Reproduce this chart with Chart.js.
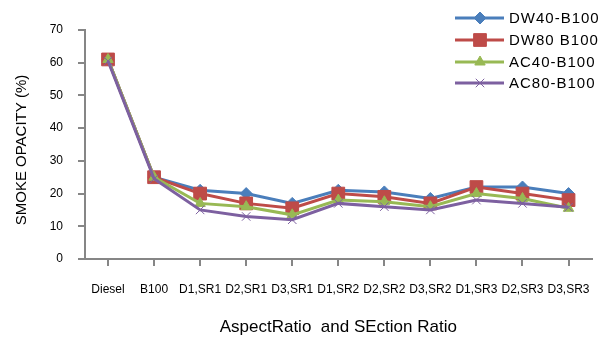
<!DOCTYPE html>
<html>
<head>
<meta charset="utf-8">
<script src="https://cdn.jsdelivr.net/npm/chart.js@4/dist/chart.umd.min.js"></script>
<style>
  html, body { margin: 0; padding: 0; background: #fff; }
  #wrap { width: 606px; height: 338px; position: relative; }
</style>
</head>
<body>
<div id="wrap"><canvas id="c" width="606" height="338"></canvas></div>
<script>
// Categories along the x axis
const categories = ["Diesel", "B100", "D1,SR1", "D2,SR1", "D3,SR1", "D1,SR2", "D2,SR2", "D3,SR2", "D1,SR3", "D2,SR3", "D3,SR3"];

// Smoke opacity (%) per blend
const dw40 = [61, 25, 21, 20, 17, 21, 20.5, 18.5, 22, 22, 20];
const dw80 = [61, 25, 20, 17, 15.5, 20, 19, 17, 22, 20, 18];
const ac40 = [61, 25, 17, 16, 13.5, 18, 17.5, 16, 20, 18.5, 15.5];
const ac80 = [60.5, 24.5, 15, 13, 12, 17, 16, 15, 18, 17, 15.8];

const seriesNames = ["DW40-B100", "DW80 B100", "AC40-B100", "AC80-B100"];
const yTicks = [0, 10, 20, 30, 40, 50, 60, 70];
const yTitle = "SMOKE OPACITY (%)";

const FONT = "'Liberation Sans', Arial, sans-serif";
const AXIS = "#868686";

const styles = [
  { color: "#4A7EBB", point: "rectRot", radius: 6, bw: 1 },
  { color: "#BE4B48", point: "rect", radius: 9, bw: 1 },
  { color: "#98B954", point: "triangle", radius: 6, bw: 1 },
  { color: "#7D60A0", point: "crossRot", radius: 6, bw: 1 }
];

const values = [dw40, dw80, ac40, ac80];
const datasets = values.map((v, i) => ({
  label: seriesNames[i],
  data: v,
  borderColor: styles[i].color,
  backgroundColor: styles[i].color,
  borderWidth: 3,
  pointStyle: styles[i].point,
  pointRadius: styles[i].radius,
  pointBorderWidth: styles[i].bw,
  pointBackgroundColor: styles[i].color,
  pointBorderColor: styles[i].color,
  tension: 0,
  order: 4 - i
}));

// Legend at the top right (overlapping the plot region) and the vertical axis title
const extras = {
  id: "extras",
  afterDraw(chart) {
    const ctx = chart.ctx;
    ctx.save();
    const rows = [18, 40, 62, 83];
    datasets.forEach((ds, i) => {
      const y = rows[i];
      ctx.strokeStyle = ds.borderColor;
      ctx.lineWidth = 3;
      ctx.beginPath();
      ctx.moveTo(455, y);
      ctx.lineTo(504, y);
      ctx.stroke();
      const opts = {
        pointStyle: ds.pointStyle,
        radius: ds.pointRadius,
        rotation: 0,
        borderWidth: ds.pointBorderWidth
      };
      ctx.fillStyle = ds.pointBackgroundColor;
      ctx.strokeStyle = ds.pointBorderColor;
      ctx.lineWidth = ds.pointBorderWidth;
      Chart.helpers.drawPoint(ctx, opts, 480, y);
      ctx.fillStyle = "#000";
      ctx.font = "15px " + FONT;
      ctx.letterSpacing = "1px";
      ctx.textBaseline = "middle";
      ctx.textAlign = "left";
      ctx.fillText(ds.label, 509, y + 1);
    });
    ctx.letterSpacing = "0px";
    ctx.translate(22, 150);
    ctx.rotate(-Math.PI / 2);
    ctx.font = "15px " + FONT;
    ctx.textAlign = "center";
    ctx.textBaseline = "middle";
    ctx.fillStyle = "#000";
    ctx.fillText(yTitle, 0, 0);
    ctx.restore();
  }
};

new Chart(document.getElementById("c"), {
  type: "line",
  data: { labels: categories, datasets },
  options: {
    responsive: false,
    animation: false,
    layout: { padding: { top: 30, right: 0, bottom: 0, left: 0 } },
    plugins: { legend: { display: false }, tooltip: { enabled: false } },
    scales: {
      x: {
        type: "category",
        offset: true,
        grid: { display: true, drawOnChartArea: false, drawTicks: true, tickLength: 7, color: AXIS, lineWidth: 2, offset: false },
        border: { display: true, color: AXIS, width: 2 },
        ticks: { color: "#000", font: { family: FONT, size: 12 }, padding: 16, maxRotation: 0, autoSkip: false },
        title: { display: true, text: "AspectRatio  and SEction Ratio", color: "#000", font: { family: FONT, size: 17 }, padding: { top: 0, bottom: 0 } },
        afterFit(scale) { scale.height = 79; }
      },
      y: {
        min: 0,
        max: 70,
        afterBuildTicks(scale) { scale.ticks = yTicks.map(v => ({ value: v })); },
        grid: { display: true, drawOnChartArea: false, drawTicks: true, tickLength: 7, color: AXIS, lineWidth: 2 },
        border: { display: true, color: AXIS, width: 2 },
        ticks: { color: "#000", font: { family: FONT, size: 12 }, padding: 15 },
        title: { display: false },
        afterFit(scale) { scale.width = 85; }
      }
    }
  },
  plugins: [extras]
});
</script>
</body>
</html>
